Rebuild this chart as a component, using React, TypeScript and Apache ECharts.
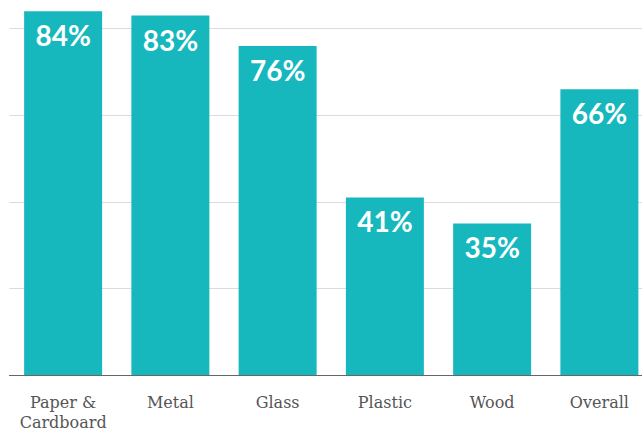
import React, { useEffect, useRef } from "react";
import * as echarts from "echarts";

const categories = ["Paper &\nCardboard", "Metal", "Glass", "Plastic", "Wood", "Overall"];
const values = [84, 83, 76, 41, 35, 66];

export default function App() {
  const ref = useRef<HTMLDivElement>(null);
  useEffect(() => {
    if (!ref.current) return;
    const chart = echarts.init(ref.current, undefined, { renderer: "svg" });
    chart.setOption({
      animation: false,
      grid: { left: 9.5, right: 0, top: 0, bottom: 58, containLabel: false, outerBoundsMode: "none" },
      xAxis: {
        type: "category",
        data: categories,
        axisLine: { show: true, lineStyle: { color: "#666", width: 1.2 } },
        axisTick: { show: false },
        axisLabel: {
          color: "#555",
          fontFamily: "DejaVu Serif",
          fontSize: 16,
          lineHeight: 20,
          margin: 17,
          interval: 0,
        },
      },
      yAxis: {
        type: "value",
        min: 0,
        max: 100,
        interval: 20,
        axisLabel: { show: false },
        axisLine: { show: false },
        axisTick: { show: false },
        splitLine: { lineStyle: { color: "#dcdcdc", width: 1 } },
      },
      series: [
        {
          type: "bar",
          data: values,
          barWidth: 78,
          itemStyle: { color: "#17b8bd" },
          label: {
            show: true,
            position: "insideTop",
            distance: 10,
            formatter: "{c}%",
            color: "#fff",
            fontFamily: "Lato",
            fontWeight: "bold",
            fontSize: 28,
          },
        },
      ],
    });
    return () => chart.dispose();
  }, []);
  return (
    <div
      style={{ position: "fixed", left: 0, top: 0, width: 642, height: 433, overflow: "hidden", background: "#fff" }}
    >
      <div
        ref={ref}
        style={{ position: "absolute", left: 0, top: -58, width: 653, height: 491 }}
      />
    </div>
  );
}
